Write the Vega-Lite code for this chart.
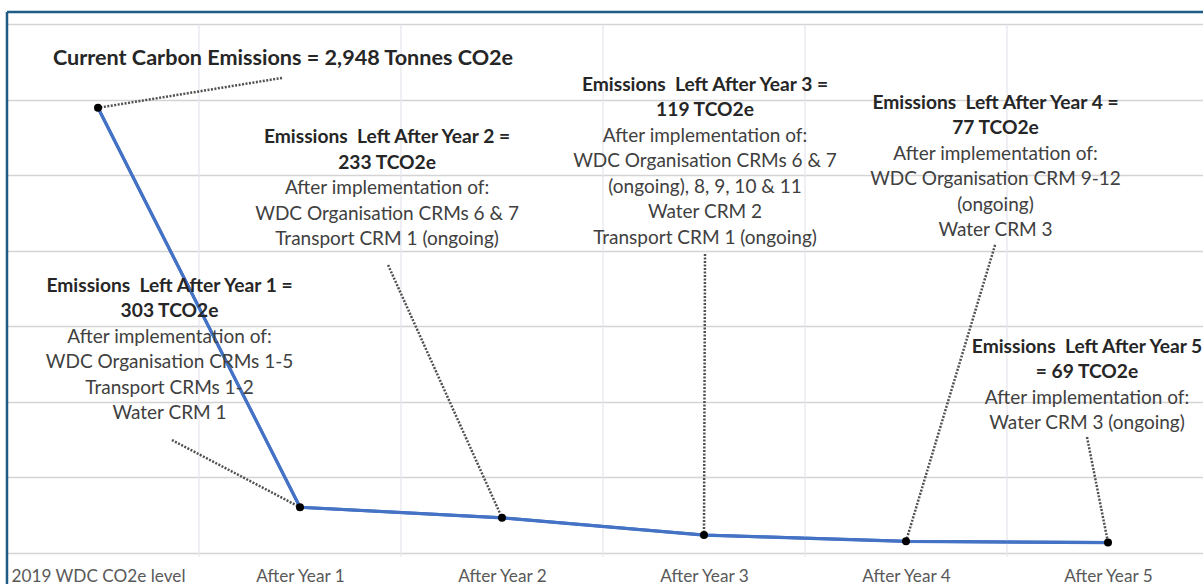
{
  "$schema": "https://vega.github.io/schema/vega-lite/v6.json",
  "width": 1203,
  "height": 553,
  "autosize": {"type": "none"},
  "padding": {"left": 0, "top": 0, "right": 0, "bottom": 31},
  "background": "white",
  "config": {"view": {"stroke": null}, "font": "Lato"},
  "datasets": {
    "emissions": [
      {"stage": 0, "label": "2019 WDC CO2e level", "tco2e": 2948},
      {"stage": 1, "label": "After Year 1", "tco2e": 303},
      {"stage": 2, "label": "After Year 2", "tco2e": 233},
      {"stage": 3, "label": "After Year 3", "tco2e": 119},
      {"stage": 4, "label": "After Year 4", "tco2e": 77},
      {"stage": 5, "label": "After Year 5", "tco2e": 69}
    ],
    "bands": [{"edge": 0.5}, {"edge": 1.5}, {"edge": 2.5}, {"edge": 3.5}, {"edge": 4.5}],
    "notes": [
      {"nx": 0.354, "ny": 1828, "header": ["Emissions \u00a0Left After Year 1 =", "303 TCO2e"], "detail": ["After implementation of:", "WDC Organisation CRMs 1-5", "Transport CRMs 1-2", "Water CRM 1"]},
      {"nx": 1.431, "ny": 2814, "header": ["Emissions \u00a0Left After Year 2 =", "233 TCO2e"], "detail": ["After implementation of:", "WDC Organisation CRMs 6 & 7", "Transport CRM 1 (ongoing)"]},
      {"nx": 3.005, "ny": 3159, "header": ["Emissions \u00a0Left After Year 3 =", "119 TCO2e"], "detail": ["After implementation of:", "WDC Organisation CRMs 6 & 7", "(ongoing), 8, 9, 10 & 11", "Water CRM 2", "Transport CRM 1 (ongoing)"]},
      {"nx": 4.443, "ny": 3040, "header": ["Emissions \u00a0Left After Year 4 =", "77 TCO2e"], "detail": ["After implementation of:", "WDC Organisation CRM 9-12", "(ongoing)", "Water CRM 3"]},
      {"nx": 4.896, "ny": 1424, "header": ["Emissions \u00a0Left After Year 5", "= 69 TCO2e"], "detail": ["After implementation of:", "Water CRM 3 (ongoing)"]}
    ],
    "leaders": [
      {"ax": 0.911, "ay": 3146, "bx": 0, "by": 2948},
      {"ax": 0.366, "ay": 748, "bx": 1, "by": 303},
      {"ax": 1.436, "ay": 1907, "bx": 2, "by": 233},
      {"ax": 3.005, "ay": 1980, "bx": 3, "by": 119},
      {"ax": 4.441, "ay": 2040, "bx": 4, "by": 77},
      {"ax": 4.896, "ay": 768, "bx": 5, "by": 69}
    ]
  },
  "layer": [
    {
      "data": {"name": "emissions"},
      "mark": {"type": "line", "color": "#4472C4", "strokeWidth": 3},
      "encoding": {
        "x": {
          "field": "stage", "type": "quantitative",
          "scale": {"domain": [-0.48515, 5.4703], "nice": false, "zero": false},
          "axis": {
            "values": [0, 1, 2, 3, 4, 5],
            "labelExpr": "['2019 WDC CO2e level','After Year 1','After Year 2','After Year 3','After Year 4','After Year 5'][datum.value]",
            "title": null, "grid": false, "ticks": false, "zindex": 0,
            "domain": true, "domainColor": "#d4d4d4", "domainWidth": 1.5,
            "labelFont": "Lato", "labelFontSize": 17.2, "labelColor": "#595959", "labelLimit": 0,
            "labelPadding": 14, "labelFlush": false, "labelOverlap": false, "labelBound": false
          }
        },
        "y": {
          "field": "tco2e", "type": "quantitative",
          "scale": {"domain": [0, 3662], "nice": false, "zero": false},
          "axis": {
            "values": [500, 1000, 1500, 2000, 2500, 3000, 3500],
            "title": null, "labels": false, "ticks": false, "domain": false, "zindex": 0,
            "grid": true, "gridColor": "#d4d4d4", "gridWidth": 1.5
          }
        }
      }
    },
    {
      "data": {"name": "bands"},
      "mark": {"type": "rule", "color": "#e4e4ec", "strokeWidth": 1.2},
      "encoding": {
        "x": {"field": "edge", "type": "quantitative", "scale": {"domain": [-0.48515, 5.4703], "nice": false, "zero": false}},
        "y": {"datum": -27, "type": "quantitative", "scale": {"domain": [0, 3662], "nice": false, "zero": false}},
        "y2": {"datum": 3500}
      }
    },
    {
      "data": {"values": [{"part": "outside frame"}]},
      "mark": {"type": "rect", "color": "white", "opacity": 1},
      "encoding": {
        "x": {"datum": -0.6, "type": "quantitative", "scale": {"domain": [-0.48515, 5.4703], "nice": false, "zero": false}},
        "x2": {"datum": -0.4505},
        "y": {"datum": -40, "type": "quantitative", "scale": {"domain": [0, 3662], "nice": false, "zero": false}},
        "y2": {"datum": 3700}
      }
    },
    {
      "data": {"values": [{"side": "left"}]},
      "mark": {"type": "rule", "color": "#1f5b87", "strokeWidth": 2.5},
      "encoding": {
        "x": {"datum": -0.4505, "type": "quantitative", "scale": {"domain": [-0.48515, 5.4703], "nice": false, "zero": false}},
        "y": {"datum": -210, "type": "quantitative", "scale": {"domain": [0, 3662], "nice": false, "zero": false}},
        "y2": {"datum": 3583}
      }
    },
    {
      "data": {"values": [{"side": "top"}]},
      "mark": {"type": "rule", "color": "#1f5b87", "strokeWidth": 2.5},
      "encoding": {
        "x": {"datum": -0.4505, "type": "quantitative", "scale": {"domain": [-0.48515, 5.4703], "nice": false, "zero": false}},
        "x2": {"datum": 5.6},
        "y": {"datum": 3583, "type": "quantitative", "scale": {"domain": [0, 3662], "nice": false, "zero": false}}
      }
    },
    {
      "data": {"name": "leaders"},
      "mark": {"type": "rule", "color": "#505050", "strokeWidth": 2.5, "strokeDash": [2, 1.5]},
      "encoding": {
        "x": {"field": "ax", "type": "quantitative", "scale": {"domain": [-0.48515, 5.4703], "nice": false, "zero": false}},
        "y": {"field": "ay", "type": "quantitative", "scale": {"domain": [0, 3662], "nice": false, "zero": false}},
        "x2": {"field": "bx"},
        "y2": {"field": "by"}
      }
    },
    {
      "data": {"name": "emissions"},
      "mark": {"type": "line", "color": "#4472C4", "strokeWidth": 3.2},
      "encoding": {
        "x": {"field": "stage", "type": "quantitative", "scale": {"domain": [-0.48515, 5.4703], "nice": false, "zero": false}},
        "y": {"field": "tco2e", "type": "quantitative", "scale": {"domain": [0, 3662], "nice": false, "zero": false}}
      }
    },
    {
      "data": {"name": "emissions"},
      "mark": {"type": "circle", "color": "black", "opacity": 1, "size": 64},
      "encoding": {
        "x": {"field": "stage", "type": "quantitative", "scale": {"domain": [-0.48515, 5.4703], "nice": false, "zero": false}},
        "y": {"field": "tco2e", "type": "quantitative", "scale": {"domain": [0, 3662], "nice": false, "zero": false}}
      }
    },
    {
      "data": {"name": "notes"},
      "mark": {"type": "text", "font": "Lato", "fontWeight": "bold", "fontSize": 19.2, "color": "#262626", "align": "center", "baseline": "top", "lineHeight": 25.5},
      "encoding": {
        "x": {"field": "nx", "type": "quantitative", "scale": {"domain": [-0.48515, 5.4703], "nice": false, "zero": false}},
        "y": {"field": "ny", "type": "quantitative", "scale": {"domain": [0, 3662], "nice": false, "zero": false}},
        "text": {"field": "header"}
      }
    },
    {
      "data": {"name": "notes"},
      "mark": {"type": "text", "font": "Lato", "fontSize": 19, "color": "#404040", "align": "center", "baseline": "top", "lineHeight": 25.5, "dy": 51},
      "encoding": {
        "x": {"field": "nx", "type": "quantitative", "scale": {"domain": [-0.48515, 5.4703], "nice": false, "zero": false}},
        "y": {"field": "ny", "type": "quantitative", "scale": {"domain": [0, 3662], "nice": false, "zero": false}},
        "text": {"field": "detail"}
      }
    },
    {
      "data": {"values": [{"nx": 0.916, "ny": 3341, "headline": "Current Carbon Emissions = 2,948 Tonnes CO2e"}]},
      "mark": {"type": "text", "font": "Lato", "fontWeight": "bold", "fontSize": 21.6, "color": "#262626", "align": "center", "baseline": "top"},
      "encoding": {
        "x": {"field": "nx", "type": "quantitative", "scale": {"domain": [-0.48515, 5.4703], "nice": false, "zero": false}},
        "y": {"field": "ny", "type": "quantitative", "scale": {"domain": [0, 3662], "nice": false, "zero": false}},
        "text": {"field": "headline"}
      }
    }
  ]
}
